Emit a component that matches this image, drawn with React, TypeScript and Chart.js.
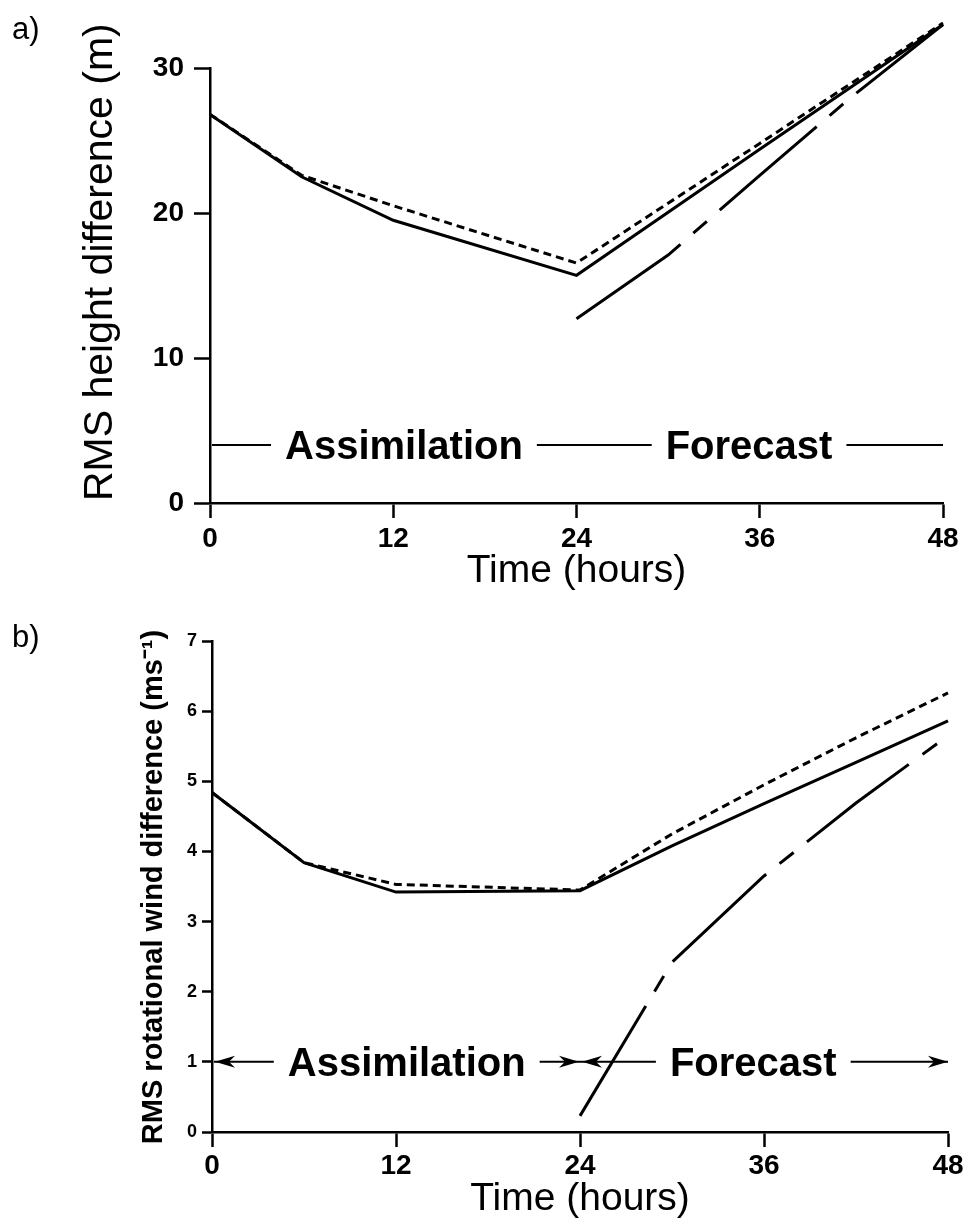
import React, { useEffect, useRef } from "react";
import { Chart, registerables } from "chart.js";

Chart.register(...registerables);

// ---------- data ----------
const hours = [0, 6, 12, 18, 24, 30, 36, 42, 48];
const xTicks = [0, 12, 24, 36, 48];

// panel a) RMS height difference (m)
const heightSolid = [26.8, 22.5, 19.5, null, 15.7, null, 24.4, null, 33.0];
const heightShortDash = [26.8, 22.6, 20.5, null, 16.55, null, 24.8, null, 33.1];
const heightLongDash = [null, null, null, null, 12.7, 17.1, 22.6, 28.0, 33.0];
const heightTicks = [0, 10, 20, 30];

// panel b) RMS rotational wind difference (m s-1)
const windSolid = [4.84, 3.84, 3.42, null, 3.44, 4.08, 4.68, 5.27, 5.86];
const windShortDash = [4.84, 3.84, 3.53, null, 3.45, 4.25, 4.95, 5.62, 6.26];
const windLongDash = [null, null, null, null, 0.23, 2.42, 3.65, 4.69, 5.65];
const windTicks = [0, 1, 2, 3, 4, 5, 6, 7];

const phaseNames = ["Assimilation", "Forecast"];
const phaseCentres = [12.7, 35.3];

const FAMILY = "'Liberation Sans', Arial, Helvetica, sans-serif";

// ---------- plugins ----------
function arrowHead(ctx: CanvasRenderingContext2D, tipX: number, y: number, dir: number) {
  ctx.beginPath();
  ctx.moveTo(tipX, y);
  ctx.lineTo(tipX - dir * 20, y - 6);
  ctx.lineTo(tipX - dir * 14, y);
  ctx.lineTo(tipX - dir * 20, y + 6);
  ctx.closePath();
  ctx.fill();
}

const phasePlugin = {
  id: "phases",
  beforeDatasetsDraw(chart: any, _args: any, opts: any) {
    const { ctx } = chart;
    const x = chart.scales.x;
    const y = chart.scales.y;
    const py = y.getPixelForValue(opts.level);
    const x0 = x.getPixelForValue(0);
    const xm = x.getPixelForValue(24);
    const x1 = x.getPixelForValue(48);
    ctx.save();
    ctx.strokeStyle = "#000";
    ctx.fillStyle = "#000";
    ctx.lineWidth = 2;
    ctx.beginPath();
    ctx.moveTo(x0 + 2, py);
    ctx.lineTo(x1, py);
    ctx.stroke();
    ctx.font = `bold 40px ${FAMILY}`;
    ctx.textAlign = "center";
    ctx.textBaseline = "alphabetic";
    phaseNames.forEach((name, i) => {
      const cx = x.getPixelForValue(phaseCentres[i]);
      const w = ctx.measureText(name).width;
      ctx.fillStyle = "#fff";
      ctx.fillRect(cx - w / 2 - 14, py - 24, w + 28, 48);
      ctx.fillStyle = "#000";
      ctx.fillText(name, cx, py + 14);
    });
    if (opts.arrows) {
      arrowHead(ctx, x0 + 3, py, -1);
      arrowHead(ctx, xm - 1, py, 1);
      arrowHead(ctx, xm + 2, py, -1);
      arrowHead(ctx, x1, py, 1);
    }
    ctx.restore();
  },
};

const sideTitlePlugin = {
  id: "sideTitle",
  afterDraw(chart: any, _args: any, opts: any) {
    const { ctx } = chart;
    ctx.save();
    ctx.translate(opts.x, opts.y);
    ctx.rotate(-Math.PI / 2);
    ctx.font = opts.font;
    ctx.fillStyle = "#000";
    ctx.textAlign = opts.align;
    ctx.textBaseline = "alphabetic";
    ctx.fillText(opts.text, 0, 0);
    ctx.restore();
  },
};

// ---------- config ----------
function buildConfig(p: any): any {
  const pts = (vals: (number | null)[]) =>
    hours.map((h, i) => ({ x: h, y: vals[i] })).filter((d) => d.y !== null);
  const base = {
    borderColor: "#000",
    borderWidth: 3,
    pointRadius: 0,
    tension: 0,
    fill: false,
    clip: false,
  };
  return {
    type: "line",
    data: {
      datasets: [
        { label: "solid", data: pts(p.solid), ...base },
        { label: "short dash", data: pts(p.short), ...base, borderDash: [8, 5] },
        { label: "long dash", data: pts(p.long), ...base, borderDash: [128, 17, 18, 17] },
      ],
    },
    options: {
      responsive: false,
      animation: false,
      devicePixelRatio: 1,
      layout: { padding: { top: p.padTop, right: p.padRight, left: 0, bottom: 0 } },
      plugins: {
        legend: { display: false },
        tooltip: { enabled: false },
        phases: { level: p.phaseLevel, arrows: p.arrows },
        sideTitle: p.sideTitle,
      },
      scales: {
        x: {
          type: "linear",
          min: 0,
          max: 48,
          afterBuildTicks: (s: any) => {
            s.ticks = xTicks.map((v) => ({ value: v }));
          },
          afterFit: (s: any) => {
            s.height = p.xHeight;
          },
          ticks: {
            font: { family: FAMILY, size: 28, weight: "bold" },
            color: "#000",
            padding: p.xTickPad,
            maxRotation: 0,
            autoSkip: false,
          },
          grid: {
            drawOnChartArea: false,
            drawTicks: true,
            tickLength: 15,
            tickWidth: 2.5,
            tickColor: "#000",
            color: "#000",
          },
          border: { display: true, color: "#000", width: 2.5 },
          title: {
            display: true,
            text: "Time (hours)",
            color: "#000",
            font: { family: FAMILY, size: 39, weight: "normal" },
            padding: { top: 0, bottom: p.xTitlePad },
          },
        },
        y: {
          type: "linear",
          min: 0,
          max: p.yMax,
          afterBuildTicks: (s: any) => {
            s.ticks = p.yTicks.map((v: number) => ({ value: v }));
          },
          afterFit: (s: any) => {
            s.width = p.yWidth;
          },
          ticks: {
            font: { family: FAMILY, size: p.yTickSize, weight: "bold" },
            color: "#000",
            padding: p.yTickPad,
            autoSkip: false,
          },
          grid: {
            drawOnChartArea: false,
            drawTicks: true,
            tickLength: p.yTickLen,
            tickWidth: 2.5,
            tickColor: "#000",
            color: "#000",
          },
          border: { display: true, color: "#000", width: 2.5 },
        },
      },
    },
    plugins: [phasePlugin, sideTitlePlugin],
  };
}

const panelA = {
  solid: heightSolid,
  short: heightShortDash,
  long: heightLongDash,
  yMax: 30,
  yTicks: heightTicks,
  padTop: 68,
  padRight: 23,
  xHeight: 107,
  yWidth: 210,
  xTickPad: 4,
  xTitlePad: 15,
  yTickSize: 28,
  yTickPad: 10,
  yTickLen: 16,
  phaseLevel: 4,
  arrows: false,
  sideTitle: {
    text: "RMS height difference (m)",
    font: `normal 41px ${FAMILY}`,
    x: 112,
    y: 501,
    align: "left",
  },
};

const panelB = {
  solid: windSolid,
  short: windShortDash,
  long: windLongDash,
  yMax: 7,
  yTicks: windTicks,
  padTop: 31,
  padRight: 18,
  xHeight: 93,
  yWidth: 212,
  xTickPad: 2,
  xTitlePad: 2,
  yTickSize: 18,
  yTickPad: 5,
  yTickLen: 10,
  phaseLevel: 1,
  arrows: true,
  sideTitle: {
    text: "RMS rotational wind difference (ms\u207B\u00B9)",
    font: `bold 29px ${FAMILY}`,
    x: 162,
    y: 277,
    align: "center",
  },
};

function Panel({ cfg, width, height }: { cfg: any; width: number; height: number }) {
  const ref = useRef<HTMLCanvasElement | null>(null);
  useEffect(() => {
    if (!ref.current) return;
    const chart = new Chart(ref.current, buildConfig(cfg));
    return () => chart.destroy();
  }, [cfg]);
  return <canvas ref={ref} width={width} height={height} style={{ display: "block" }} />;
}

export default function App() {
  const label: React.CSSProperties = {
    position: "absolute",
    left: 12,
    fontFamily: FAMILY,
    fontSize: 31,
    lineHeight: "31px",
    color: "#000",
  };
  return (
    <div
      style={{
        position: "absolute",
        left: 0,
        top: 0,
        width: 966,
        height: 1225,
        background: "#fff",
        overflow: "hidden",
      }}
    >
      <div style={{ position: "absolute", left: 0, top: 0 }}>
        <Panel cfg={panelA} width={966} height={610} />
      </div>
      <div style={{ position: "absolute", left: 0, top: 610 }}>
        <Panel cfg={panelB} width={966} height={615} />
      </div>
      <div style={{ ...label, top: 13 }}>a)</div>
      <div style={{ ...label, top: 621 }}>b)</div>
    </div>
  );
}
